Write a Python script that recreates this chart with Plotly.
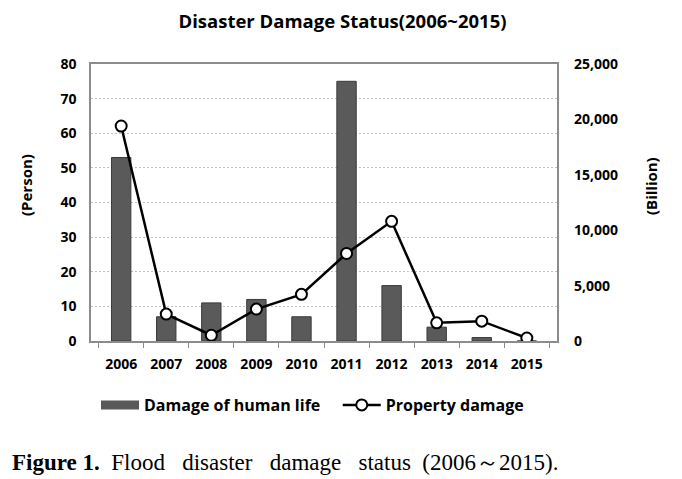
import plotly.graph_objects as go

years = ["2006", "2007", "2008", "2009", "2010", "2011", "2012", "2013", "2014", "2015"]
human_life = [53, 7, 11, 12, 7, 75, 16, 4, 1, 0]
property_damage = [19400, 2430, 520, 2880, 4210, 7900, 10800, 1640, 1790, 270]

left_ticks = [0, 10, 20, 30, 40, 50, 60, 70, 80]
right_ticks = [0, 5000, 10000, 15000, 20000, 25000]

font_main = "Open Sans"
bar_color = "#5a5a5a"

# figure is drawn at an 8px page offset, so it is 674x471 in size
W, H = 674, 471
PL, PR, PT, PB = 83, 549, 56, 333
pw, ph = PR - PL, PB - PT

fig = go.Figure()
fig.add_trace(go.Bar(
    x=years, y=human_life, name="Damage of human life",
    marker=dict(color=bar_color, line=dict(color="#3a3a3a", width=1)),
    width=0.43, yaxis="y", showlegend=False,
))
# legend swatch for bars (wide rectangle as in the reference)
fig.add_trace(go.Scatter(
    x=[None], y=[None], name="Damage of human life&nbsp;&nbsp;&nbsp;", mode="lines",
    line=dict(color=bar_color, width=9), hoverinfo="skip",
))
fig.add_trace(go.Scatter(
    x=years, y=property_damage, name="Property damage", yaxis="y2",
    mode="lines+markers",
    line=dict(color="#000000", width=2.5),
    marker=dict(symbol="circle", size=11, color="#ffffff", line=dict(color="#000000", width=2)),
))

tick_font = dict(family=font_main, size=14, color="#000000", weight="bold")

fig.update_layout(
    width=W, height=H,
    margin=dict(l=PL, r=W - PR, t=PT, b=H - PB, autoexpand=False),
    paper_bgcolor="#ffffff", plot_bgcolor="#ffffff",
    title=dict(text="Disaster Damage Status(2006~2015)", x=334.5 / W, xref="container", xanchor="center",
               y=1 - 13.5 / H, yref="container", yanchor="middle",
               font=dict(family=font_main, size=18.5, color="#000000", weight="bold")),
    font=dict(family=font_main, color="#000000"),
    showlegend=True,
    legend=dict(orientation="h", x=(88 - PL) / pw, xanchor="left", y=(PB - 397) / ph, yanchor="middle",
                font=dict(family=font_main, size=16, color="#000000", weight="bold"),
                itemwidth=38, tracegroupgap=0),
    xaxis=dict(
        type="category", showgrid=False, showline=True, linecolor="#8c8c8c", linewidth=1.5,
        mirror=True, ticks="outside", tickson="boundaries", ticklen=5, tickcolor="#8c8c8c",
        tickfont=tick_font, ticklabelstandoff=9, automargin=False,
    ),
    yaxis=dict(
        range=[0, 80], tickvals=left_ticks, showgrid=True, gridcolor="#c0c0c0", griddash="2px,2px",
        gridwidth=1, showline=True, linecolor="#8c8c8c", linewidth=1.5, mirror=True,
        ticks="", zeroline=False, tickfont=tick_font, ticklabelstandoff=10, automargin=False,
    ),
    yaxis2=dict(
        overlaying="y", side="right", range=[0, 25000], tickvals=right_ticks, tickformat=",",
        showgrid=False, zeroline=False, showline=False, ticks="",
        tickfont=tick_font, ticklabelstandoff=16, automargin=False,
    ),
)

axis_title_font = dict(family=font_main, size=15, color="#000000", weight="bold")
fig.add_annotation(text="(Person)", xref="paper", yref="paper", x=(18 - PL) / pw, y=(PB - 177) / ph,
                   xanchor="center", yanchor="middle", textangle=-90, showarrow=False,
                   font=axis_title_font)
fig.add_annotation(text="(Billion)", xref="paper", yref="paper", x=(643 - PL) / pw, y=(PB - 178) / ph,
                   xanchor="center", yanchor="middle", textangle=-90, showarrow=False,
                   font=axis_title_font)

fig.add_annotation(
    text="<b>Figure 1.</b>&nbsp;&nbsp;Flood&nbsp;&nbsp;&nbsp;disaster&nbsp;&nbsp;&nbsp;"
         "damage&nbsp;&nbsp;&nbsp;status&nbsp;&nbsp;(2006～2015).",
    xref="paper", yref="paper", x=(2 - PL) / pw, y=(PB - 454) / ph, xanchor="left", yanchor="middle",
    showarrow=False, font=dict(family="Liberation Serif", size=23, color="#000000"),
)

fig.write_html("out.html")
